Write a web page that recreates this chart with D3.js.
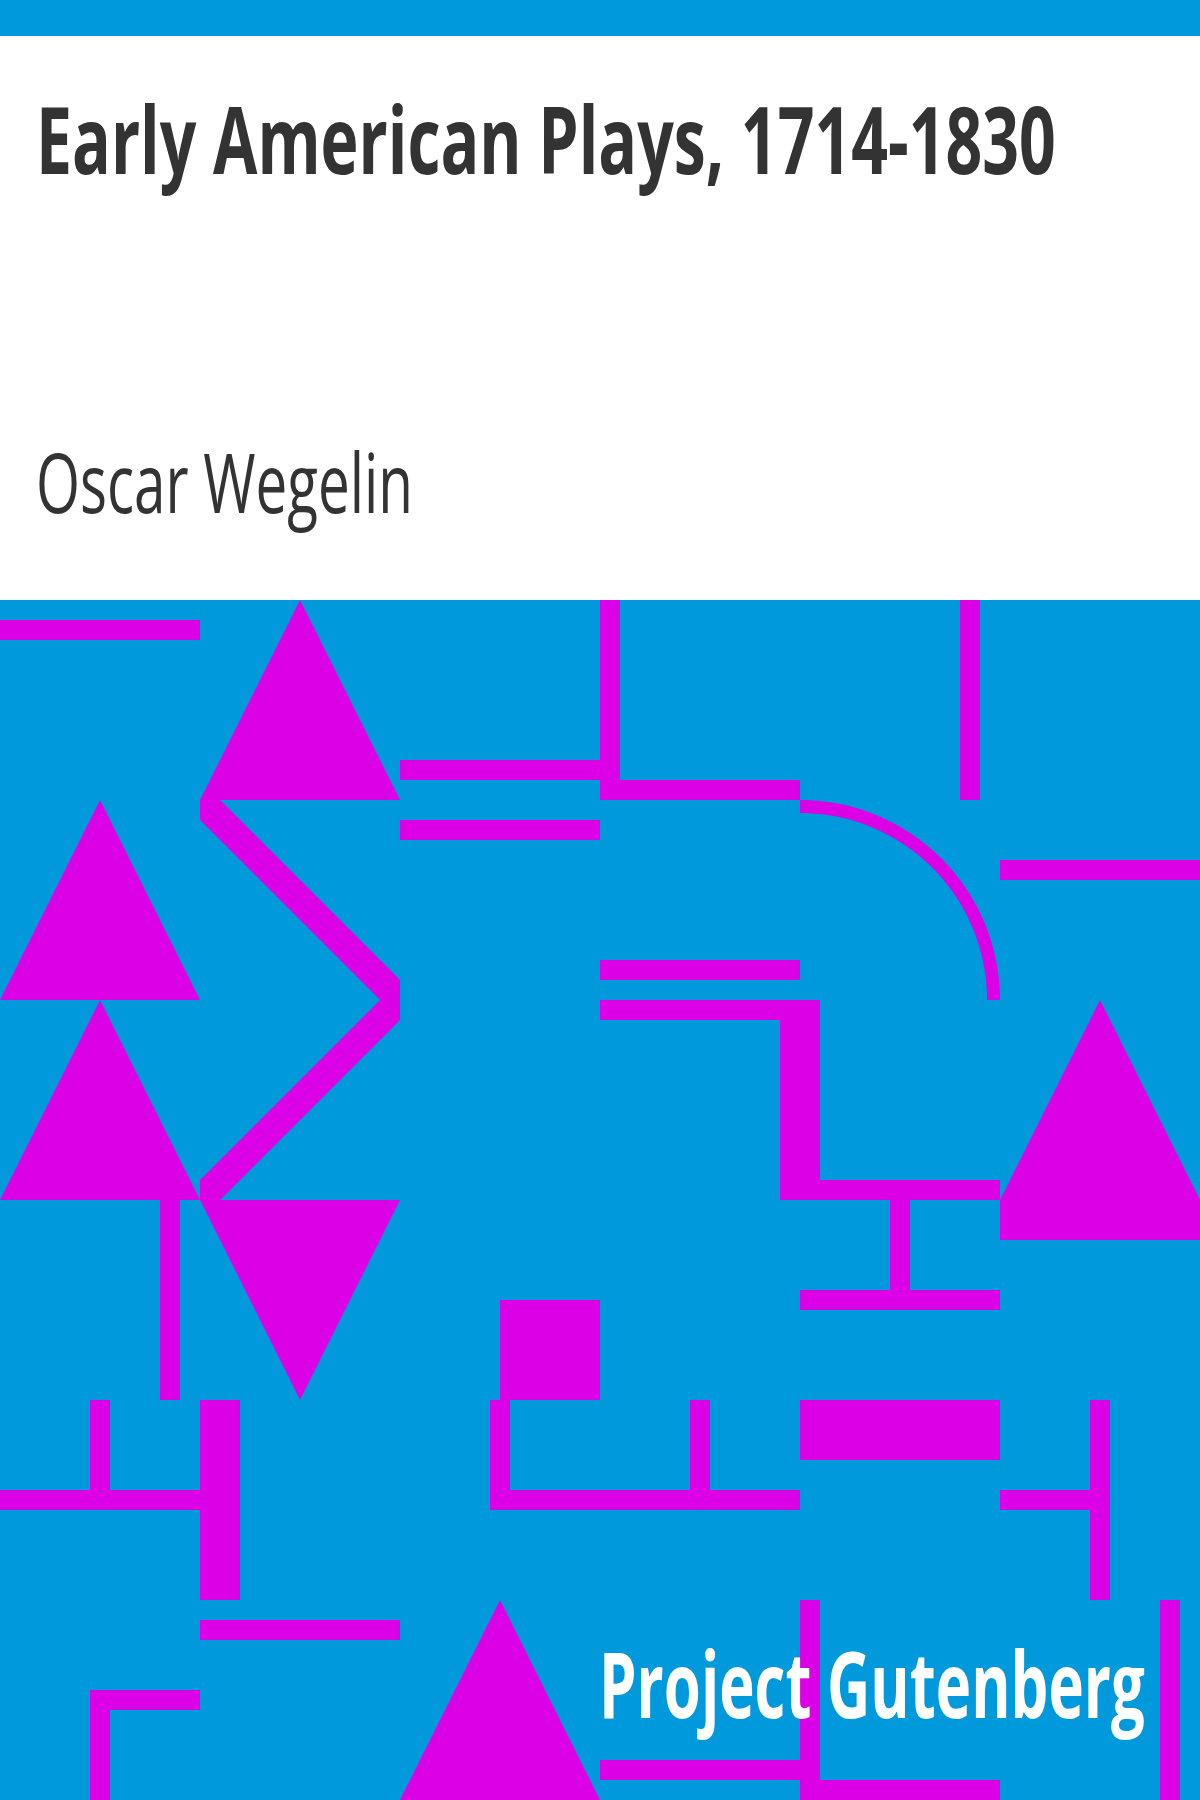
<!DOCTYPE html>
<html>
<head>
<meta charset="utf-8">
<script src="https://cdn.jsdelivr.net/npm/d3@7"></script>
<style>
  html, body { margin: 0; padding: 0; background: #fff; }
  svg { display: block; }
</style>
</head>
<body>
<svg id="cover"></svg>
<script>
const width = 1200;
const height = 1800;

const blue = "#0099dc";
const magenta = "#dc00e6";
const ink = "#333333";

// cover texts
const titleText = "Early American Plays, 1714-1830";
const authorText = "Oscar Wegelin";
const brandText = "Project Gutenberg";

// pattern in grid units (6 x 6 cells, 1 unit = one cell)
// bars: [x0, y0, x1, y1]
const bars = [
  [0, 0.1, 1, 0.2],
  [2, 0.8, 3, 0.9],
  [2, 1.1, 3, 1.2],
  [3, 0, 3.1, 1],
  [3, 0.9, 4, 1],
  [4.8, 0, 4.9, 1],
  [5, 1.3, 6, 1.4],
  [3, 1.8, 4, 1.9],
  [3, 2, 4.1, 2.1],
  [3.9, 2, 4.1, 3],
  [3.9, 2.9, 5, 3],
  [0.8, 3, 0.9, 4],
  [2.5, 3.5, 3, 4],
  [4.45, 3, 4.55, 3.45],
  [4, 3.45, 5, 3.55],
  [5, 3, 6, 3.2],
  [0.45, 4, 0.55, 4.45],
  [0, 4.45, 1, 4.55],
  [1, 4, 1.2, 5],
  [2.45, 4, 2.55, 4.55],
  [2.45, 4.45, 3, 4.55],
  [3.45, 4, 3.55, 4.45],
  [3, 4.45, 4, 4.55],
  [4, 4, 5, 4.3],
  [5, 4.45, 5.45, 4.55],
  [5.45, 4, 5.55, 5],
  [0.45, 5.45, 0.55, 6],
  [0.45, 5.45, 1, 5.55],
  [1, 5.1, 2, 5.2],
  [3, 5.8, 4, 5.9],
  [4, 5, 4.1, 6],
  [4, 5.9, 5, 6],
  [5.8, 5, 5.9, 6]
];

// triangles: [col, row, direction]
const triangles = [
  [1, 0, "up"],
  [0, 1, "up"],
  [0, 2, "up"],
  [5, 2, "up"],
  [1, 3, "down"],
  [2, 5, "up"]
];

// zigzag band
const zigzag = [
  [1, 1], [1.1, 1], [2, 1.9], [2, 2.1], [1.1, 3],
  [1, 3], [1, 2.9], [1.9, 2], [1, 1.1]
];

// quarter ring: centre, inner and outer radius
const ring = { cx: 4, cy: 2, inner: 0.935, outer: 1 };

const x = d3.scaleLinear().domain([0, 6]).range([0, width]);
const y = d3.scaleLinear().domain([0, 6]).range([600, height]);
const r = d3.scaleLinear().domain([0, 1]).range([0, 200]);

const svg = d3.select("#cover")
  .attr("width", width)
  .attr("height", height)
  .attr("viewBox", `0 0 ${width} ${height}`);

// top strip
svg.append("rect")
  .attr("x", 0).attr("y", 0)
  .attr("width", width).attr("height", 36)
  .attr("fill", blue);

// pattern background
svg.append("rect")
  .attr("x", x(0)).attr("y", y(0))
  .attr("width", x(6) - x(0)).attr("height", y(6) - y(0))
  .attr("fill", blue);

const pattern = svg.append("g").attr("fill", magenta);

pattern.selectAll("rect.bar")
  .data(bars)
  .join("rect")
  .attr("class", "bar")
  .attr("x", d => x(d[0]))
  .attr("y", d => y(d[1]))
  .attr("width", d => x(d[2]) - x(d[0]))
  .attr("height", d => y(d[3]) - y(d[1]));

const line = d3.line().x(d => x(d[0])).y(d => y(d[1]));

pattern.selectAll("path.tri")
  .data(triangles)
  .join("path")
  .attr("class", "tri")
  .attr("d", ([c, rw, dir]) => {
    const pts = dir === "up"
      ? [[c + 0.5, rw], [c + 1, rw + 1], [c, rw + 1]]
      : [[c, rw], [c + 1, rw], [c + 0.5, rw + 1]];
    return line(pts) + "Z";
  });

pattern.append("path")
  .attr("d", line(zigzag) + "Z");

pattern.append("path")
  .attr("transform", `translate(${x(ring.cx)}, ${y(ring.cy)})`)
  .attr("d", d3.arc()
    .innerRadius(r(ring.inner))
    .outerRadius(r(ring.outer))
    .startAngle(0)
    .endAngle(Math.PI / 2)());

// texts: squeeze horizontally to the condensed width of the original
function condensedText(str, left, baseline, size, weight, fill, targetWidth) {
  const g = svg.append("g");
  const t = g.append("text")
    .attr("x", 0)
    .attr("y", 0)
    .attr("font-family", "'Open Sans', 'Noto Sans', sans-serif")
    .attr("font-weight", weight)
    .attr("font-size", size)
    .attr("fill", fill)
    .text(str);
  const w = t.node().getComputedTextLength();
  const k = w > 0 ? targetWidth / w : 1;
  g.attr("transform", `translate(${left}, ${baseline}) scale(${k}, 1)`);
}

condensedText(titleText, 36, 174, 94, 700, ink, 1020);
condensedText(authorText, 36, 513, 83, 400, ink, 377);
condensedText(brandText, 599, 1718, 91, 700, "#ffffff", 546);
</script>
</body>
</html>
